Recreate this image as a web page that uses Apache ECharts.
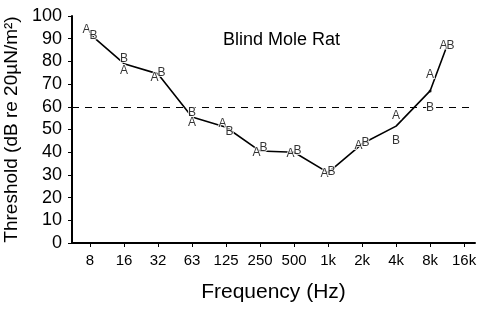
<!DOCTYPE html>
<html>
<head>
<meta charset="utf-8">
<title>Blind Mole Rat</title>
<script src="https://cdn.jsdelivr.net/npm/echarts@6.0.0/dist/echarts.min.js"></script>
<style>
  html, body { margin: 0; padding: 0; background: #fff; }
  #chart { width: 477px; height: 310px; }
</style>
</head>
<body>
<div id="chart"></div>
<script>
  // x is counted in octaves from 8 Hz (0 = 8 Hz, 1 = 16 Hz, ...)
  var freqLabels = ['8', '16', '32', '63', '125', '250', '500', '1k', '2k', '4k', '8k', '16k'];
  var freqSteps  = [0, 1, 2, 3, 4, 5, 6, 7, 8, 9, 10, 10.5];
  var meanDb     = [92, 79, 74.5, 55.5, 51, 40.5, 40, 31, 43.7, 51.5, 67, 87];
  var animalA    = [94, 76, 73, 53, 52.5, 40, 39.5, 30.5, 43, 56, 74, 87];
  var animalB    = [91.5, 81, 75, 57.5, 49, 42, 40.5, 31.3, 44, 45, 59.5, 87];
  var dotIndex   = 10;   // the mean point drawn as a dot (8k)
  var refLevel   = 60;

  var font = 'Liberation Sans, Arial, Helvetica, sans-serif';
  var tickSteps = freqLabels.map(function (l, i) { return i; });

  function letterData(vals, other, side) {
    var out = [];
    for (var i = 0; i < vals.length; i++) {
      // letters that would sit on top of each other are nudged apart sideways
      var dx = Math.abs(vals[i] - other[i]) < 4 ? side * 3.5 : 0;
      out.push({ value: [freqSteps[i], vals[i]], label: { offset: [dx, 0] } });
    }
    return out;
  }

  function letterSeries(name, vals, other, side) {
    return {
      type: 'scatter',
      name: name,
      data: letterData(vals, other, side),
      symbolSize: 1,
      itemStyle: { color: 'rgba(0,0,0,0)' },
      silent: true,
      z: 5,
      label: {
        show: true,
        position: 'inside',
        formatter: name,
        color: '#000',
        fontFamily: font,
        fontSize: 12,
        textBorderColor: '#fff',
        textBorderWidth: 2
      }
    };
  }

  var chart = echarts.init(document.getElementById('chart'));

  chart.setOption({
    animation: false,
    backgroundColor: '#fff',
    title: {
      text: 'Blind Mole Rat',
      left: 218,
      top: 26,
      textStyle: { fontFamily: font, fontSize: 18, fontWeight: 'normal', color: '#000' }
    },
    grid: { left: 72, right: 2, top: 16, bottom: 67, containLabel: false, outerBoundsMode: 'none' },
    xAxis: {
      type: 'value',
      min: -0.53,
      max: 11.32,
      name: 'Frequency (Hz)',
      nameLocation: 'middle',
      nameGap: 39,
      nameTextStyle: { fontFamily: font, fontSize: 21, color: '#000' },
      splitLine: { show: false },
      axisLine: { onZero: false, lineStyle: { color: '#000', width: 2 } },
      axisTick: { show: true, length: 4, customValues: tickSteps, lineStyle: { color: '#000' } },
      axisLabel: {
        customValues: tickSteps,
        margin: 10,
        fontFamily: font,
        fontSize: 15,
        color: '#000',
        formatter: function (v) { return freqLabels[Math.round(v)]; }
      }
    },
    yAxis: {
      type: 'value',
      min: 0,
      max: 100,
      interval: 10,
      name: 'Threshold (dB re 20\u00b5N/m\u00b2)',
      nameLocation: 'middle',
      nameGap: 39,
      nameTextStyle: { fontFamily: font, fontSize: 19, color: '#000' },
      splitLine: { show: false },
      axisLine: { show: true, onZero: false, lineStyle: { color: '#000', width: 2 } },
      axisTick: { show: true, length: 4, lineStyle: { color: '#000' } },
      axisLabel: { margin: 10, fontFamily: font, fontSize: 18, color: '#000' }
    },
    series: [
      {
        type: 'line',
        data: freqSteps.map(function (x, i) { return [x, meanDb[i]]; }),
        showSymbol: false,
        silent: true,
        z: 2,
        lineStyle: { color: '#000', width: 1.6 },
        markLine: {
          silent: true,
          symbol: 'none',
          label: { show: false },
          lineStyle: { color: '#000', width: 1, type: [7, 6] },
          data: [{ yAxis: refLevel }]
        }
      },
      {
        type: 'scatter',
        data: [[freqSteps[dotIndex], meanDb[dotIndex]]],
        symbolSize: 3,
        itemStyle: { color: '#000' },
        silent: true,
        z: 3
      },
      letterSeries('A', animalA, animalB, -1),
      letterSeries('B', animalB, animalA, 1)
    ]
  });
</script>
</body>
</html>
